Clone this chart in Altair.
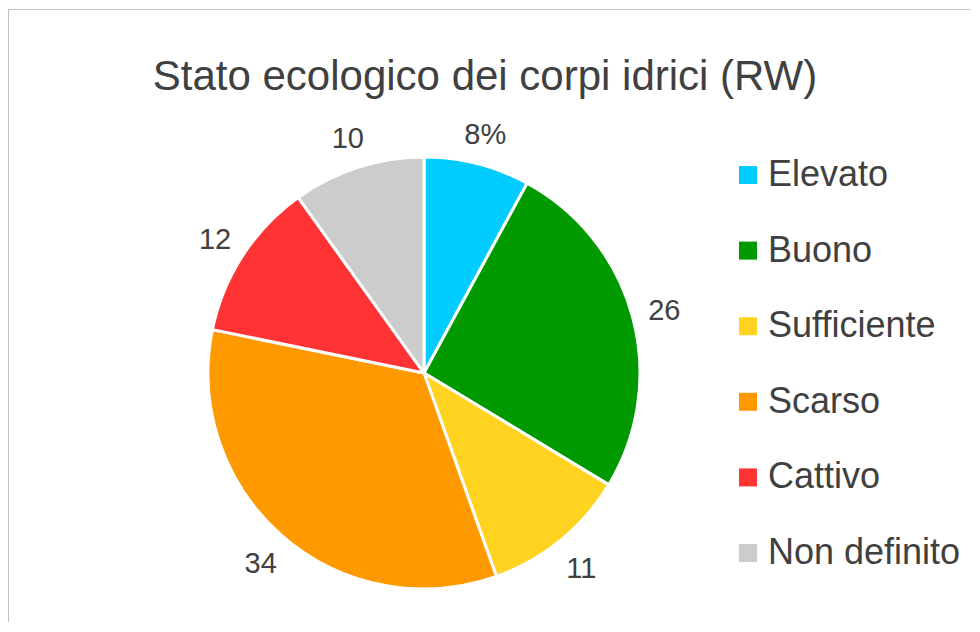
import altair as alt
import pandas as pd

CATEGORIES = ["Elevato", "Buono", "Sufficiente", "Scarso", "Cattivo", "Non definito"]
VALUES = [8, 26, 11, 34, 12, 10]
LABELS = ["8%", "26", "11", "34", "12", "10"]
COLORS = ["#00CCFF", "#009900", "#FFD320", "#FF9900", "#FF3333", "#CCCCCC"]
TITLE = "Stato ecologico dei corpi idrici (RW)"

FONT = "Liberation Sans"
TEXT_COLOR = "#404040"

df = pd.DataFrame({
    "cat": CATEGORIES,
    "value": VALUES,
    "label": LABELS,
    "idx": list(range(len(CATEGORIES))),
})

W, H = 962, 614
CX, CY = 416, 365

base = alt.Chart(df).encode(
    theta=alt.Theta("value:Q", stack=True),
    order=alt.Order("idx:Q"),
)

pie = base.mark_arc(outerRadius=216, stroke="white", strokeWidth=3).encode(
    x=alt.value(CX),
    y=alt.value(CY),
    color=alt.Color(
        "cat:N",
        sort=CATEGORIES,
        scale=alt.Scale(domain=CATEGORIES, range=COLORS),
        legend=alt.Legend(
            title=None,
            orient="none",
            legendX=722,
            legendY=149,
            symbolType="square",
            symbolSize=324,
            symbolStrokeWidth=0,
            labelFontSize=36,
            labelFont=FONT,
            labelColor=TEXT_COLOR,
            labelOffset=2,
            labelLimit=400,
            rowPadding=39.6,
            padding=0,
        ),
    ),
)

labels = base.mark_text(
    radius=249, fontSize=29, font=FONT, color=TEXT_COLOR,
    align="center", baseline="middle",
).encode(
    x=alt.value(CX),
    y=alt.value(CY + 3),
    text="label:N",
    detail="cat:N",
)

title = alt.Chart(pd.DataFrame({"t": [TITLE]})).mark_text(
    fontSize=42, font=FONT, color=TEXT_COLOR, align="center", baseline="alphabetic",
).encode(
    text="t:N",
    x=alt.value(477),
    y=alt.value(82),
)

border_df = pd.DataFrame({"a": [0]})
top_border = alt.Chart(border_df).mark_rule(color="#C0C0C0", strokeWidth=1).encode(
    x=alt.value(0), x2=alt.value(W), y=alt.value(1.5), y2=alt.value(1.5)
)
left_border = alt.Chart(border_df).mark_rule(color="#C0C0C0", strokeWidth=1).encode(
    x=alt.value(0.5), x2=alt.value(0.5), y=alt.value(1), y2=alt.value(H)
)

chart = alt.layer(top_border, left_border, pie, labels, title).properties(
    width=W,
    height=H,
    autosize=alt.AutoSizeParams(type="none"),
    padding=0,
).configure_view(stroke=None)

chart.save("out.html", embed_options={"renderer": "svg", "actions": False})
